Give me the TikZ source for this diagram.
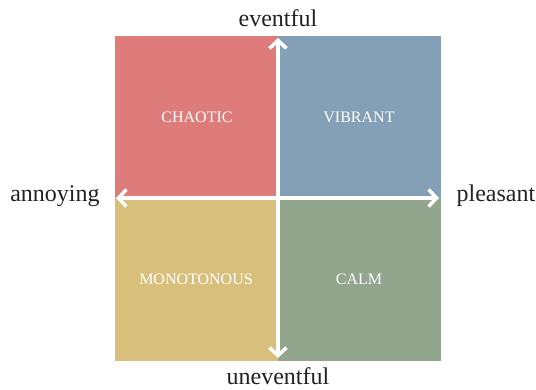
\documentclass[tikz,border=0pt]{standalone}
\usepackage{fontspec}
\setmainfont{Liberation Serif}
\usetikzlibrary{arrows.meta}
\definecolor{cred}{HTML}{DE7B7B}
\definecolor{cblue}{HTML}{84A0B6}
\definecolor{cyellow}{HTML}{D8C07C}
\definecolor{cgreen}{HTML}{91A68C}
\definecolor{ctext}{HTML}{222222}
\begin{document}
\begin{tikzpicture}[x=1pt,y=-1pt,
  qlabel/.style={text=white,font=\fontsize{16}{18}\selectfont},
  axlabel/.style={text=ctext,font=\fontsize{24}{27}\selectfont},
  axis/.style={white,line width=3.5pt,{Straight Barb[length=8pt,width=17pt,line width=3.5pt]}-{Straight Barb[length=8pt,width=17pt,line width=3.5pt]}}]
\useasboundingbox (0,0) rectangle (536,389);
\fill[cred] (115,36) rectangle (278,198);
\fill[cblue] (278,36) rectangle (441,198);
\fill[cyellow] (115,198) rectangle (278,361);
\fill[cgreen] (278,198) rectangle (441,361);
\coordinate (top) at (278,38);
\coordinate (bot) at (278,358);
\coordinate (lft) at (116,198);
\coordinate (rgt) at (439,198);
\draw[axis] (bot) -- (top);
\draw[axis] (lft) -- (rgt);
\node[qlabel] (chaotic) at (197,117) {CHAOTIC};
\node[qlabel] (vibrant) at (359,117) {VIBRANT};
\node[qlabel] (mono) at (196,279) {MONOTONOUS};
\node[qlabel] (calm) at (359,279) {CALM};
\node[axlabel] (ev) at (278,18) {eventful};
\node[axlabel] (unev) at (278,376) {uneventful};
\node[axlabel] (ann) at (55,196) {annoying};
\node[axlabel,anchor=east,inner sep=0pt] (pl) at (535.5,196) {pleasant};
\end{tikzpicture}
\end{document}
